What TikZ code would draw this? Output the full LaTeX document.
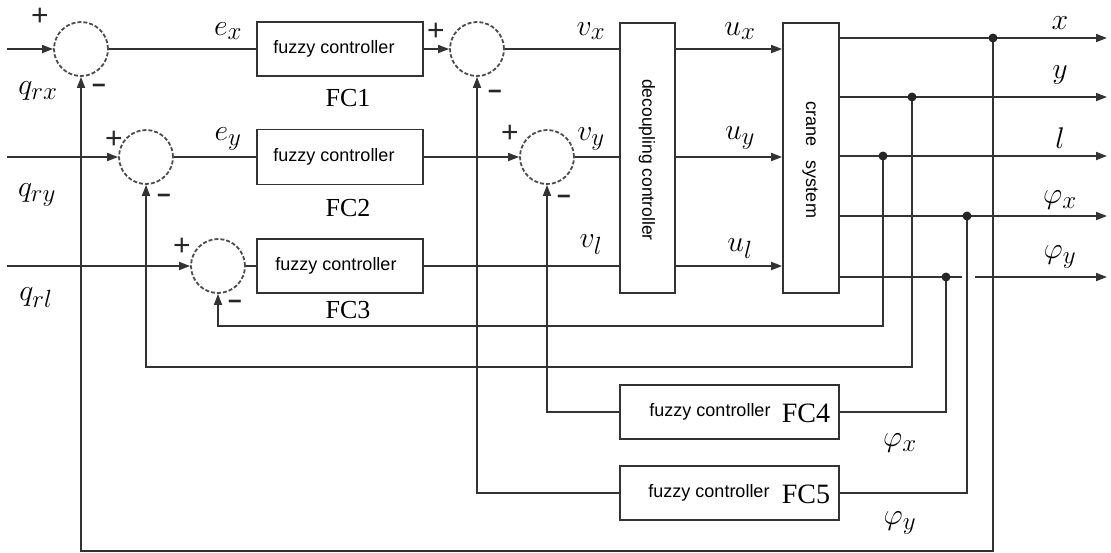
\documentclass[tikz,border=0pt]{standalone}
\usepackage{graphicx}
\usepackage{fontspec}
\newfontfamily\sansf{Liberation Sans}
\newfontfamily\seriff{Liberation Serif}
\usetikzlibrary{arrows.meta}
\newcommand{\mlab}[1]{\scalebox{1.2}{$#1$}}
\begin{document}
\begin{tikzpicture}[x=1pt,y=-1pt,
  ln/.style={line width=1.7pt, draw=black!80},
  arr/.style={ln, -{Triangle[length=11pt,width=8pt]}},
  sumc/.style={circle, draw=black!70, line width=1.8pt, dash pattern=on 4pt off 2pt, minimum size=54pt, inner sep=0pt},
  blk/.style={draw=black!80, line width=1.7pt, inner sep=0pt},
  fz/.style={font=\sansf\fontsize{18}{20}\selectfont, inner sep=0pt},
  fc/.style={font=\seriff\fontsize{26}{30}\selectfont, inner sep=0pt},
  fcb/.style={font=\seriff\fontsize{28}{30}\selectfont, inner sep=0pt},
  ml/.style={font=\Huge, inner sep=0pt},
  sg/.style={font=\sansf\fontsize{30}{32}\selectfont, inner sep=0pt, text=black!85},
  sgm/.style={font=\sansf\bfseries\fontsize{24}{28}\selectfont, inner sep=0pt, text=black!85},
  dot/.style={circle, fill=black!85, minimum size=9pt, inner sep=0pt},
]
\useasboundingbox (0,0) rectangle (1111,552);
% summing junctions
\node[sumc] (s1) at (81,49) {};
\node[sumc] (s2) at (146,157) {};
\node[sumc] (s3) at (218,266) {};
\node[sumc] (s4) at (477,49) {};
\node[sumc] (s5) at (547,157) {};
% blocks
\node[blk, minimum width=166pt, minimum height=54pt] (fc1) at (340,49) {};
\node[blk, minimum width=166pt, minimum height=55pt] (fc2) at (340,157) {};
\node[blk, minimum width=166pt, minimum height=54pt] (fc3) at (340,266) {};
\node[fz] (fc1t) at (334,49) {fuzzy controller};
\node[fz] (fc2t) at (334,157) {fuzzy controller};
\node[fz] (fc3t) at (336,266) {fuzzy controller};
\node[blk, minimum width=55pt, minimum height=270pt] (dec) at (647.5,158) {};
\node[fz, font=\sansf\fontsize{17.5}{20}\selectfont, rotate=-90] (dect) at (647,160) {decoupling controller};
\node[blk, minimum width=56pt, minimum height=270pt] (crane) at (811,158) {};
\node[fz, rotate=-90] (cranet) at (810,160) {crane\hspace{0.5em} system};
\node[blk, minimum width=219pt, minimum height=54pt] (fc4) at (729.5,412) {};
\node[blk, minimum width=219pt, minimum height=54pt] (fc5) at (729.5,493) {};
\node[fz] (fc4t) at (710,412) {fuzzy controller};
\node[fz] (fc5t) at (709,493) {fuzzy controller};
\node[fcb] (fc4l) at (806,413) {FC4};
\node[fcb] (fc5l) at (806,494) {FC5};
% coordinates
\coordinate (qx) at (7,49);
\coordinate (qy) at (7,157);
\coordinate (ql) at (7,266);
\coordinate (jx) at (993,38);
\coordinate (jy) at (912,97);
\coordinate (jl) at (883,156);
\coordinate (jpx) at (967,216);
\coordinate (jpy) at (946,277);
\coordinate (ox) at (1107,38);
\coordinate (oy) at (1107,97);
\coordinate (ol) at (1107,156);
\coordinate (opx) at (1107,216);
\coordinate (opy) at (1107,277);
\coordinate (gL) at (962,277);
\coordinate (gR) at (975,277);
\coordinate (bot) at (0,551);
\coordinate (lv3) at (0,326);
\coordinate (lv2) at (0,367);
% forward path
\draw[arr] (qx) -- (s1.west);
\draw[arr] (qy) -- (s2.west);
\draw[arr] (ql) -- (s3.west);
\draw[ln] (s1.east) -- (fc1.west);
\draw[ln] (s2.east) -- (fc2.west);
\draw[ln] (s3.east) -- (fc3.west);
\draw[arr] (fc1.east) -- (s4.west);
\draw[arr] (fc2.east) -- (s5.west);
\draw[ln] (s4.east) -- (dec.west |- s4.east);
\draw[ln] (s5.east) -- (dec.west |- s5.east);
\draw[ln] (fc3.east) -- (dec.west |- fc3.east);
\draw[arr] (dec.east |- s4.east) -- (crane.west |- s4.east);
\draw[arr] (dec.east |- s5.east) -- (crane.west |- s5.east);
\draw[arr] (dec.east |- fc3.east) -- (crane.west |- fc3.east);
% outputs
\draw[arr] (crane.east |- jx) -- (ox);
\draw[arr] (crane.east |- jy) -- (oy);
\draw[arr] (crane.east |- jl) -- (ol);
\draw[arr] (crane.east |- jpx) -- (opx);
\draw[ln] (crane.east |- jpy) -- (gL);
\draw[arr] (gR) -- (opy);
% feedback
\draw[arr] (jx) |- (s1 |- bot) -- (s1.south);
\draw[arr] (jy) |- (s2 |- lv2) -- (s2.south);
\draw[arr] (jl) |- (s3 |- lv3) -- (s3.south);
\draw[ln] (jpy) |- (fc4.east);
\draw[arr] (fc4.west) -| (s5.south);
\draw[ln] (jpx) |- (fc5.east);
\draw[arr] (fc5.west) -| (s4.south);
% junction dots
\node[dot] (dx) at (jx) {};
\node[dot] (dy) at (jy) {};
\node[dot] (dl) at (jl) {};
\node[dot] (dpx) at (jpx) {};
\node[dot] (dpy) at (jpy) {};
% signs
\node[sg] (p1) at (40,17) {+};
\node[sgm] (m1) at (99,89) {−};
\node[sg] (p2) at (114,140) {+};
\node[sgm] (m2) at (164,199) {−};
\node[sg] (p3) at (182,247) {+};
\node[sgm] (m3) at (235,305) {−};
\node[sg] (p4) at (436,32) {+};
\node[sgm] (m4) at (495,95) {−};
\node[sg] (p5) at (510,134) {+};
\node[sgm] (m5) at (564,200) {−};
% labels
\node[ml] (lqrx) at (38,91) {\mlab{q_{rx}}};
\node[ml] (lqry) at (37,195) {\mlab{q_{ry}}};
\node[ml] (lqrl) at (36,298) {\mlab{q_{rl}}};
\node[ml] (lex) at (228,31) {\mlab{e_x}};
\node[ml] (ley) at (228,139) {\mlab{e_y}};
\node[fc] (lfc1) at (348,98) {FC1};
\node[fc] (lfc2) at (348,208) {FC2};
\node[fc] (lfc3) at (348,310) {FC3};
\node[ml] (lvx) at (591,31) {\mlab{v_x}};
\node[ml] (lvy) at (591,139) {\mlab{v_y}};
\node[ml] (lvl) at (591,245) {\mlab{v_l}};
\node[ml] (lux) at (740,31) {\mlab{u_x}};
\node[ml] (luy) at (740,138) {\mlab{u_y}};
\node[ml] (lul) at (740,249) {\mlab{u_l}};
\node[ml] (lx) at (1060,23) {\mlab{x}};
\node[ml] (ly) at (1060,75) {\mlab{y}};
\node[ml] (ll) at (1060,138) {\mlab{l}};
\node[ml] (lpx) at (1060,200) {\mlab{\varphi_x}};
\node[ml] (lpy) at (1060,257) {\mlab{\varphi_y}};
\node[ml] (lpx2) at (900,443) {\mlab{\varphi_x}};
\node[ml] (lpy2) at (900,523) {\mlab{\varphi_y}};
\end{tikzpicture}
\end{document}
